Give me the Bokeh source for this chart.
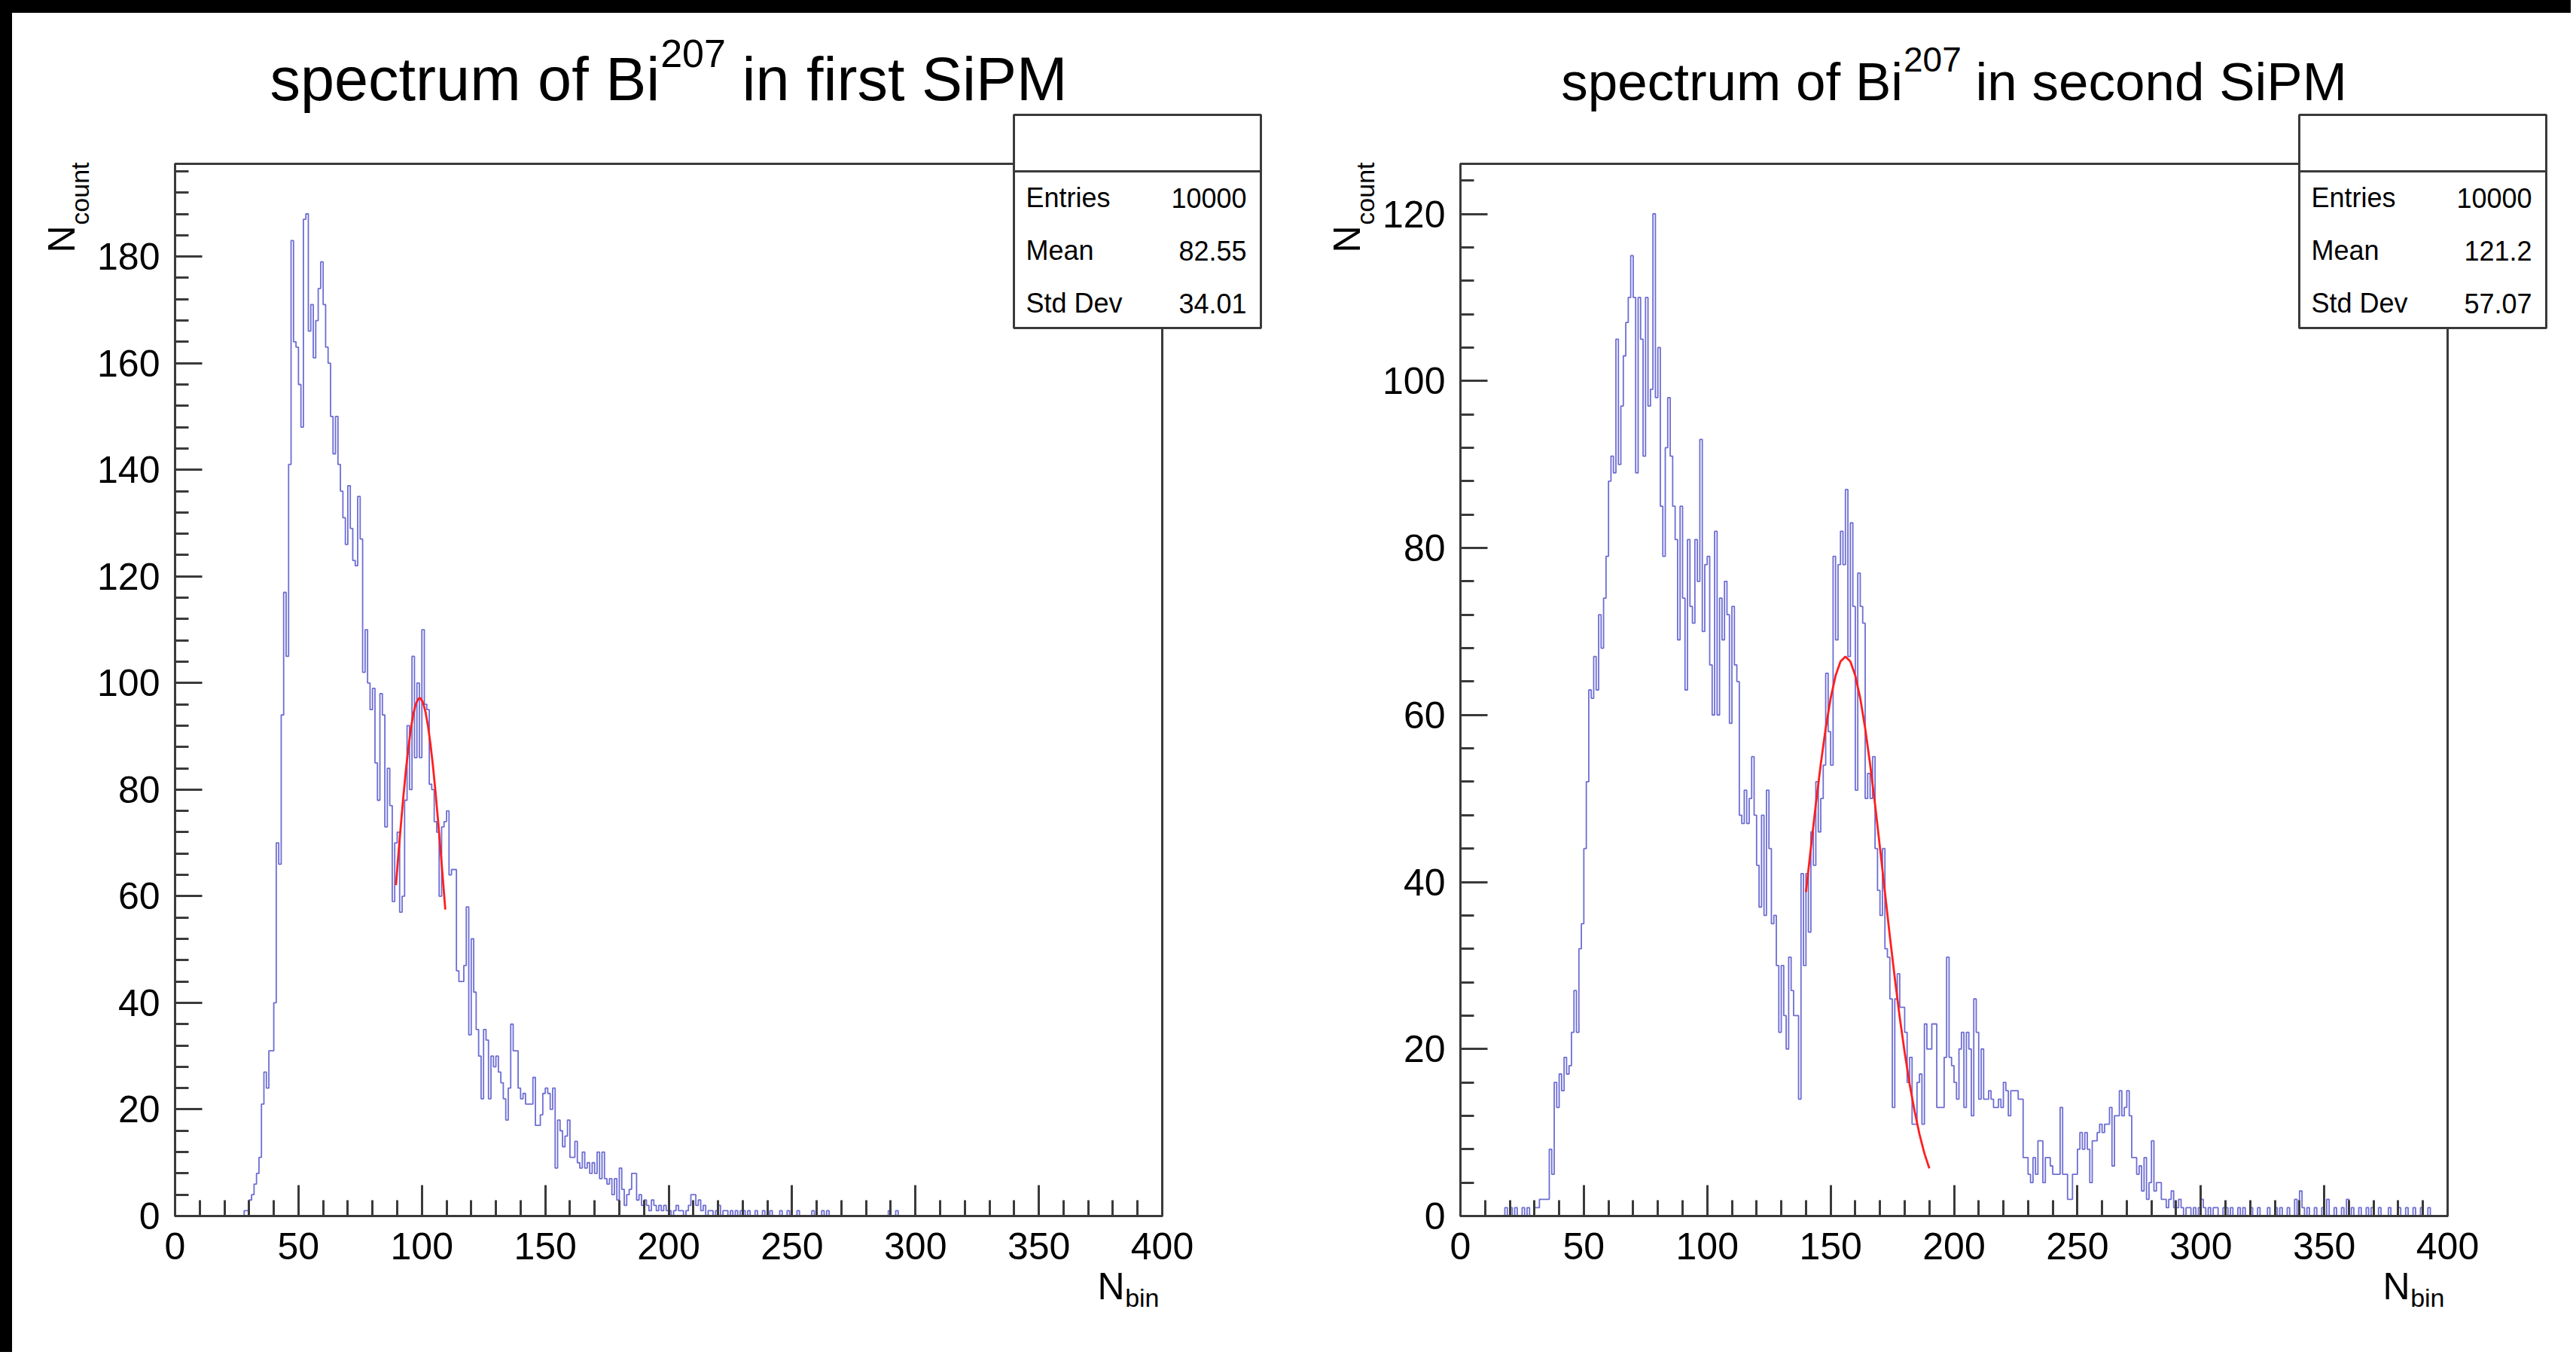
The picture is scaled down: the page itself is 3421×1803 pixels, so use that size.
import math
from bokeh.plotting import figure
from bokeh.models import Label, BoxAnnotation, SingleIntervalTicker, Range1d, Spacer
from bokeh.layouts import row, column
from bokeh.embed import file_html
from bokeh.resources import INLINE

# ------------------------------------------------------------------ data
bin_edges = list(range(0, 401))          # 400 bins of width 1

first_offset = 28                         # first non-empty bin, first SiPM
first_counts = [
    1, 1, 3, 4, 6, 8, 11, 21, 27, 24, 31, 31,                       # 28-39
    40, 70, 66, 94, 117, 105, 141, 183, 164, 163,                   # 40-49
    156, 148, 187, 188, 166, 171, 161, 168, 174, 179,               # 50-59
    171, 163, 160, 150, 143, 150, 141, 136, 131, 126,               # 60-69
    137, 129, 123, 122, 135, 127, 102, 110, 100, 95,                # 70-79
    99, 85, 78, 98, 94, 73, 84, 77, 59, 70,                         # 80-89
    72, 57, 60, 78, 92, 80, 105, 86, 100, 86,                       # 90-99
    110, 96, 95, 81, 80, 74, 72, 60, 73, 74,                        # 100-109
    76, 64, 65, 65, 46, 44, 44, 47, 58, 34,                         # 110-119
    52, 42, 35, 30, 22, 35, 33, 22, 30, 28,                         # 120-129
    30, 27, 25, 22, 18, 24, 36, 31, 31, 24,                         # 130-139
    22, 23, 21, 21, 21, 26, 17, 17, 19, 23,                         # 140-149
    24, 23, 20, 24, 9, 18, 16, 13, 15, 18,                          # 150-159
    11, 11, 14, 10, 9, 12, 9, 10, 8, 10,                            # 160-169
    8, 12, 7, 12, 7, 6, 7, 4, 7, 3,                                 # 170-179
    9, 5, 2, 4, 5, 8, 8, 3, 4, 2,                                   # 180-189
    3, 2, 1, 3, 2, 1, 2, 1, 2, 1,                                   # 190-199
    1, 0, 1, 2, 1, 1, 0, 1, 2, 4,                                   # 200-209
    4, 2, 3, 1, 2, 0, 1, 1, 0, 1,                                   # 210-219
    2, 0, 1, 1, 0, 1, 0, 1, 0, 1,                                   # 220-229
    1, 0, 1, 0, 0, 1, 0, 0, 1, 0,                                   # 230-239
    0, 1, 0, 0, 0, 1, 0, 0, 1, 0,                                   # 240-249
    0, 0, 1, 0, 0, 0, 0, 0, 1, 0,                                   # 250-259
    0, 0, 1, 0, 1, 0, 0, 0, 0, 0,                                   # 260-269
    0, 0, 0, 0, 0, 0, 0, 0, 0, 0,                                   # 270-279
    0, 0, 0, 0, 0, 0, 0, 0, 0, 1,                                   # 280-289
    0, 0, 1,                                                        # 290-292
]

second_offset = 18                        # first non-empty bin, second SiPM
second_counts = [
    1, 0,                                                           # 18-19
    1, 0, 1, 0, 0, 1, 0, 1, 0, 0,                                   # 20-29
    1, 1, 2, 2, 2, 2, 8, 5, 16, 13,                                 # 30-39
    17, 15, 19, 17, 18, 22, 27, 22, 32, 35,                         # 40-49
    44, 52, 63, 62, 67, 63, 72, 68, 74, 79,                         # 50-59
    88, 91, 89, 105, 90, 97, 103, 107, 110, 115,                    # 60-69
    110, 89, 110, 105, 91, 110, 97, 99, 120, 98,                    # 70-79
    104, 85, 79, 92, 98, 91, 85, 81, 69, 85,                        # 80-89
    74, 63, 81, 73, 71, 81, 76, 93, 70, 78,                         # 90-99
    79, 66, 60, 82, 60, 74, 69, 76, 72, 59,                         # 100-109
    73, 66, 64, 48, 47, 51, 47, 50, 55, 48,                         # 110-119
    42, 37, 48, 36, 51, 44, 35, 36, 30, 22,                         # 120-129
    30, 24, 20, 31, 27, 24, 24, 14, 41, 30,                         # 130-139
    41, 34, 46, 42, 52, 46, 50, 54, 65, 58,                         # 140-149
    54, 79, 69, 78, 82, 78, 87, 67, 83, 73,                         # 150-159
    51, 77, 73, 71, 50, 53, 50, 55, 44, 39,                         # 160-169
    36, 44, 32, 31, 26, 13, 26, 29, 25, 25,                         # 170-179
    22, 16, 19, 11, 11, 16, 17, 11, 23, 20,                         # 180-189
    20, 23, 23, 13, 13, 13, 19, 31, 19, 18,                         # 190-199
    16, 14, 20, 22, 13, 22, 20, 12, 26, 22,                         # 200-209
    14, 20, 14, 14, 15, 14, 13, 13, 14, 13,                         # 210-219
    16, 15, 12, 15, 15, 15, 14, 14, 7, 7,                           # 220-229
    5, 4, 7, 5, 9, 9, 4, 7, 7, 6,                                   # 230-239
    5, 5, 5, 13, 5, 5, 2, 2, 5, 5,                                  # 240-249
    8, 10, 8, 10, 8, 4, 9, 9, 10, 11,                               # 250-259
    10, 11, 11, 13, 6, 12, 12, 15, 12, 13,                          # 260-269
    15, 12, 7, 7, 5, 6, 3, 7, 2, 4,                                 # 270-279
    9, 3, 4, 4, 2, 2, 1, 2, 3, 1,                                   # 280-289
    1, 2, 1, 0, 1, 1, 0, 1, 0, 1,                                   # 290-299
    2, 1, 0, 1, 0, 1, 1, 0, 0, 1,                                   # 300-309
    1, 0, 1, 0, 0, 1, 0, 1, 0, 0,                                   # 310-319
    1, 0, 0, 1, 0, 0, 0, 1, 0, 0,                                   # 320-329
    1, 0, 1, 0, 0, 1, 0, 0, 2, 0,                                   # 330-339
    3, 1, 0, 1, 0, 0, 1, 0, 0, 1,                                   # 340-349
    0, 2, 0, 0, 1, 0, 0, 1, 0, 2,                                   # 350-359
    0, 1, 0, 0, 1, 0, 0, 1, 0, 1,                                   # 360-369
    0, 0, 1, 0, 0, 0, 1, 0, 0, 0,                                   # 370-379
    1, 0, 0, 1, 0, 0, 1, 0, 0, 1,                                   # 380-389
    0, 0, 1,                                                        # 390-392
]

# Gaussian fit curves
first_fit_x = [89.5, 90.5, 91.5, 92.5, 93.5, 94.5, 95.5, 96.5, 97.5, 98.5, 99.1,
               99.5, 100.5, 101.5, 102.5, 103.5, 104.5, 105.5, 106.5, 107.5, 108.5, 109.5]
first_fit_y = [62.1, 67.9, 73.4, 78.7, 83.5, 87.7, 91.3, 94.1, 96.0, 97.0, 97.2,
               97.1, 96.3, 94.5, 91.9, 88.5, 84.4, 79.7, 74.5, 69.0, 63.3, 57.5]
second_fit_x = [140, 142, 144, 146, 148, 150, 152, 154, 156, 158, 160, 162, 164,
                166, 168, 170, 172, 174, 176, 178, 180, 182, 184, 186, 188, 190]
second_fit_y = [38.8, 44.1, 49.3, 54.1, 58.4, 62.0, 64.7, 66.4, 67.0, 66.4, 64.7, 62.0, 58.4,
                54.1, 49.3, 44.1, 38.8, 33.5, 28.5, 23.8, 19.6, 15.8, 12.6, 9.8, 7.5, 5.7]

stats_names = ["Entries", "Mean", "Std Dev"]
first_stats = ["10000", "82.55", "34.01"]
second_stats = ["10000", "121.2", "57.07"]

title_parts_first = ("spectrum of Bi", "207", "in first SiPM")
title_parts_second = ("spectrum of Bi", "207", "in second SiPM")
x_label_parts = ("N", "bin")
y_label_parts = ("N", "count")

x_min, x_max = 0, 400
x_ticks_interval = 50
y_ticks_interval = 20

# ------------------------------------------------------------------ style / layout
FONT = "Liberation Sans"
AX_COLOR = "#3a3a3a"
HIST_COLOR = "#5555cc"
FIT_COLOR = "#ff1f1f"

FIG_H = 1778
B_TOP, B_BOT = 200, 181
FRAME_W, FRAME_H = 1311, 1397
K_BASE = 0.36      # empirical shift of the text anchor (fraction of font size)

# Arial/Liberation Sans advance widths (per 1000 em)
ADV = {' ': 278, 'a': 556, 'b': 556, 'c': 500, 'd': 556, 'e': 556, 'f': 278, 'i': 222,
       'm': 833, 'n': 556, 'o': 556, 'p': 556, 'r': 333, 's': 500, 't': 278, 'u': 556,
       'B': 667, 'M': 833, 'P': 667, 'S': 667, '0': 556, '2': 556, '7': 556}


def text_w(s, size):
    return sum(ADV.get(ch, 556) for ch in s) / 1000.0 * size


def full_counts(offset, vals):
    c = [0] * (x_max - x_min)
    for i, v in enumerate(vals):
        c[offset + i] = v
    return c


def make_panel(counts, fit_x, fit_y, stats_vals, title_parts, title_size, sup_size,
               width, b_left, b_right):
    ymax = 1.05 * max(counts)
    sx = FRAME_W / float(x_max - x_min)
    sy = FRAME_H / ymax
    # the Bokeh frame covers the whole figure; the histogram box sits inside it
    xr = Range1d(x_min - b_left / sx, x_max + b_right / sx)
    yr = Range1d(-B_BOT / sy, ymax + B_TOP / sy)
    p = figure(width=width, height=FIG_H, output_backend="svg", toolbar_location=None,
               x_range=xr, y_range=yr, min_border=0,
               background_fill_color="white", border_fill_color="white")
    p.grid.visible = False
    p.outline_line_color = None

    # axes, pinned to the histogram box
    p.xaxis.fixed_location = 0
    p.xaxis.bounds = (x_min, x_max)
    p.yaxis.fixed_location = x_min
    p.yaxis.bounds = (0, ymax)
    p.xaxis.ticker = SingleIntervalTicker(interval=x_ticks_interval, num_minor_ticks=5)
    p.yaxis.ticker = SingleIntervalTicker(interval=y_ticks_interval, num_minor_ticks=5)
    for ax in (p.xaxis[0], p.yaxis[0]):
        ax.axis_line_color = AX_COLOR
        ax.axis_line_width = 3
        ax.major_tick_line_color = AX_COLOR
        ax.major_tick_line_width = 3
        ax.minor_tick_line_color = AX_COLOR
        ax.minor_tick_line_width = 3
        ax.major_tick_out = 0
        ax.minor_tick_out = 0
        ax.major_label_text_font = FONT
        ax.major_label_text_font_size = "50px"
        ax.major_label_text_color = "black"
    p.xaxis.major_tick_in = 41
    p.xaxis.minor_tick_in = 21
    p.xaxis.major_label_standoff = 22
    p.yaxis.major_tick_in = 36
    p.yaxis.minor_tick_in = 18
    p.yaxis.major_label_standoff = 20

    # histogram outline + fit
    ys = counts + [counts[-1]]
    p.step(x=bin_edges, y=ys, mode="after", line_color=HIST_COLOR, line_width=1.8,
           line_alpha=0.85)
    p.line(x=fit_x, y=fit_y, line_color=FIT_COLOR, line_width=2.8)

    # pixel offsets relative to the histogram box top-left (y downward)
    # -> screen units (from the figure's bottom-left, y upward)
    def X(px):
        return b_left + px

    def Y(py):
        return FIG_H - (B_TOP + py)

    def label(px, py, text, size, align="left", rotated=False, corr=None):
        c = K_BASE * (corr if corr is not None else size)
        if rotated:
            px -= c
        else:
            py -= c
        p.add_layout(Label(x=X(px), y=Y(py), x_units="screen", y_units="screen",
                           text=text, text_font=FONT,
                           text_font_size=f"{size}px", text_color="black",
                           text_align=align, text_baseline="alphabetic",
                           angle=math.pi / 2 if rotated else 0.0))

    def box(l, r, t, b, fill=True):
        p.add_layout(BoxAnnotation(left=X(l), right=X(r), top=Y(t), bottom=Y(b),
                                   left_units="screen", right_units="screen",
                                   top_units="screen", bottom_units="screen",
                                   fill_color="white", fill_alpha=1.0 if fill else 0.0,
                                   line_color=AX_COLOR, line_width=3, line_alpha=1.0))

    # histogram frame (top and right edges)
    box(0, FRAME_W, 0, FRAME_H, fill=False)

    # statistics box
    bl, br = FRAME_W - 197, FRAME_W + 131
    bt, bs, bb = -65, 10, 218
    box(bl, br, bt, bs)
    box(bl, br, bs, bb)
    for i, (nm, val) in enumerate(zip(stats_names, stats_vals)):
        base = 58 + i * 70
        label(bl + 16, base, nm, 36, "left")
        label(br - 19, base, val, 36, "right")

    # title with superscript
    t1, sup, t2 = title_parts
    w1 = text_w(t1, title_size)
    ws = text_w(sup, sup_size)
    wsp = text_w(" ", title_size)
    w2 = text_w(t2, title_size)
    total = w1 + ws + wsp + w2
    start = FRAME_W / 2.0 - total / 2.0
    tb = -83
    label(start, tb, t1, title_size, "left")
    label(start + w1 + 1, tb - 0.42 * title_size, sup, sup_size, "left", corr=title_size)
    label(start + w1 + ws + wsp, tb, t2, title_size, "left")

    # axis titles with subscripts
    label(FRAME_W - 50, FRAME_H + 111, x_label_parts[0], 50, "right")
    label(FRAME_W - 4, FRAME_H + 121, x_label_parts[1], 34, "right")
    label(-133, 82, y_label_parts[0], 50, "right", rotated=True)
    label(-114, -2, y_label_parts[1], 34, "right", rotated=True)
    return p


p1 = make_panel(full_counts(first_offset, first_counts), first_fit_x, first_fit_y,
                first_stats, title_parts_first, 81, 52, 1685, 216, 158)
p2 = make_panel(full_counts(second_offset, second_counts), second_fit_x, second_fit_y,
                second_stats, title_parts_second, 71, 46, 1713, 238, 164)

top_band = Spacer(width=3414, height=17, styles={"background-color": "black"})
left_band = Spacer(width=16, height=FIG_H, styles={"background-color": "black"})
layout = column(top_band, row(left_band, p1, p2))

with open("out.html", "w") as f:
    f.write(file_html(layout, INLINE))
